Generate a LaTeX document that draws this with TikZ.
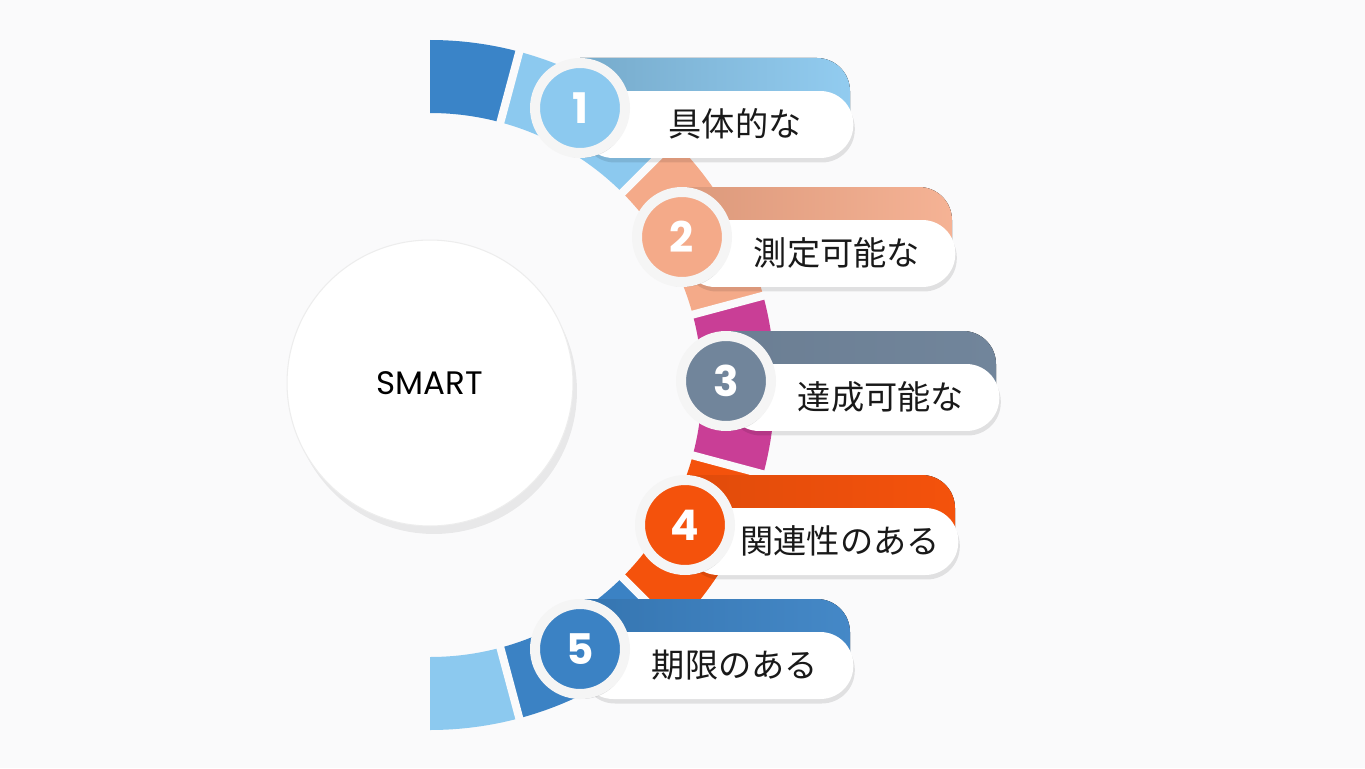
\documentclass[tikz,border=0pt]{standalone}
\usepackage{fontspec}
\usetikzlibrary{positioning,calc,shadows}

\newfontfamily\jpfont{Noto Sans CJK JP}
\newfontfamily\smartfont{Poppins}

\definecolor{bgcol}{HTML}{FAFAFB}
\definecolor{deepblue}{HTML}{3A84C8}
\definecolor{skyblue}{HTML}{8CC9EF}
\definecolor{salmon}{HTML}{F4AA89}
\definecolor{plum}{HTML}{C93E96}
\definecolor{slate}{HTML}{71859B}
\definecolor{flame}{HTML}{F4520C}
\definecolor{ocean}{HTML}{3B82C4}

\tikzstyle{gap} = [draw=bgcol, line width=0.16cm]
\tikzstyle{panel} = [
        rectangle,
        rounded corners=0.66cm,
        minimum width=5.46cm,
        minimum height=1.34cm,
        anchor=west,
        fill=white,
        drop shadow={shadow xshift=0.03cm, shadow yshift=-0.09cm, opacity=0.1, fill=black}
    ]
\tikzstyle{badge} = [
        circle,
        minimum size=1.8cm,
        line width=0.2cm,
        draw=white!96!black,
        text=white,
        font=\smartfont\bfseries\fontsize{24}{24}\selectfont,
        drop shadow={shadow xshift=0.04cm, shadow yshift=-0.1cm, opacity=0.14, fill=black}
    ]
\tikzstyle{steptext} = [
        font=\jpfont\fontsize{18.9}{20}\selectfont,
        text=black!90
    ]
\tikzstyle{hub} = [
        circle,
        minimum size=5.72cm,
        fill=white,
        draw=white!93!black,
        line width=0.6pt,
        font=\smartfont\fontsize{18.5}{20}\selectfont,
        drop shadow={shadow xshift=0.08cm, shadow yshift=-0.16cm, opacity=0.07, fill=black}
    ]

\begin{document}
\begin{tikzpicture}[x=0.02cm, y=0.02cm]
        \useasboundingbox (-430,-383) rectangle (935,385);
        \fill [bgcol] (-430,-383) rectangle (935,385);

        \fill [deepblue] (75:272) arc [start angle=75, end angle=90, radius=272] -- (90:345) arc [start angle=90, end angle=75, radius=345] -- cycle;
        \fill [skyblue] (45:272) arc [start angle=45, end angle=75, radius=272] -- (75:345) arc [start angle=75, end angle=45, radius=345] -- cycle;
        \fill [salmon] (15:272) arc [start angle=15, end angle=45, radius=272] -- (45:345) arc [start angle=45, end angle=15, radius=345] -- cycle;
        \fill [plum] (-15:272) arc [start angle=-15, end angle=15, radius=272] -- (15:345) arc [start angle=15, end angle=-15, radius=345] -- cycle;
        \fill [flame] (-45:272) arc [start angle=-45, end angle=-15, radius=272] -- (-15:345) arc [start angle=-15, end angle=-45, radius=345] -- cycle;
        \fill [ocean] (-75:272) arc [start angle=-75, end angle=-45, radius=272] -- (-45:345) arc [start angle=-45, end angle=-75, radius=345] -- cycle;
        \fill [skyblue] (-90:272) arc [start angle=-90, end angle=-75, radius=272] -- (-75:345) arc [start angle=-75, end angle=-90, radius=345] -- cycle;

        \draw [gap] (75:262) -- (75:355);
        \draw [gap] (45:262) -- (45:355);
        \draw [gap] (15:262) -- (15:355);
        \draw [gap] (-15:262) -- (-15:355);
        \draw [gap] (-45:262) -- (-45:355);
        \draw [gap] (-75:262) -- (-75:355);

        \coordinate (c1) at (150,277);
        \coordinate (c2) at (252,148);
        \coordinate (c3) at (296,4);
        \coordinate (c4) at (255,-140);
        \coordinate (c5) at (150,-264);

        \fill [left color=skyblue!85!black, right color=skyblue!95!white] ($(c1)+(0,-20)$) -- ($(c1)+(0,50)$) -- ($(c1)+(237,50)$) arc [start angle=90, end angle=0, radius=33] -- ($(c1)+(270,-20)$) -- cycle;
        \fill [left color=salmon!90!black, right color=salmon!90!white] ($(c2)+(0,-20)$) -- ($(c2)+(0,50)$) -- ($(c2)+(237,50)$) arc [start angle=90, end angle=0, radius=33] -- ($(c2)+(270,-20)$) -- cycle;
        \fill [left color=slate!95!black, right color=slate] ($(c3)+(0,-20)$) -- ($(c3)+(0,50)$) -- ($(c3)+(237,50)$) arc [start angle=90, end angle=0, radius=33] -- ($(c3)+(270,-20)$) -- cycle;
        \fill [left color=flame!92!black, right color=flame] ($(c4)+(0,-20)$) -- ($(c4)+(0,50)$) -- ($(c4)+(237,50)$) arc [start angle=90, end angle=0, radius=33] -- ($(c4)+(270,-20)$) -- cycle;
        \fill [left color=ocean!90!black, right color=ocean!95!white] ($(c5)+(0,-20)$) -- ($(c5)+(0,50)$) -- ($(c5)+(237,50)$) arc [start angle=90, end angle=0, radius=33] -- ($(c5)+(270,-20)$) -- cycle;

        \node (panel1) [panel] at ($(c1)+(0,-16.5)$) {};
        \node (panel2) [panel] at ($(c2)+(0,-16.5)$) {};
        \node (panel3) [panel] at ($(c3)+(0,-16.5)$) {};
        \node (panel4) [panel] at ($(c4)+(0,-16.5)$) {};
        \node (panel5) [panel] at ($(c5)+(0,-16.5)$) {};

        \node (num1) [badge, fill=skyblue] at (c1) {1};
        \node (num2) [badge, fill=salmon] at (c2) {2};
        \node (num3) [badge, fill=slate] at (c3) {3};
        \node (num4) [badge, fill=flame] at (c4) {4};
        \node (num5) [badge, fill=ocean] at (c5) {5};

        \node (text1) [steptext] at ($(c1)+(155,-16)$) {具体的な};
        \node (text2) [steptext] at ($(c2)+(155,-16)$) {測定可能な};
        \node (text3) [steptext] at ($(c3)+(155,-16)$) {達成可能な};
        \node (text4) [steptext] at ($(c4)+(155,-16)$) {関連性のある};
        \node (text5) [steptext] at ($(c5)+(155,-16)$) {期限のある};

        \node (hub) [hub] at (0,2) {SMART};

    \end{tikzpicture}
\end{document}
